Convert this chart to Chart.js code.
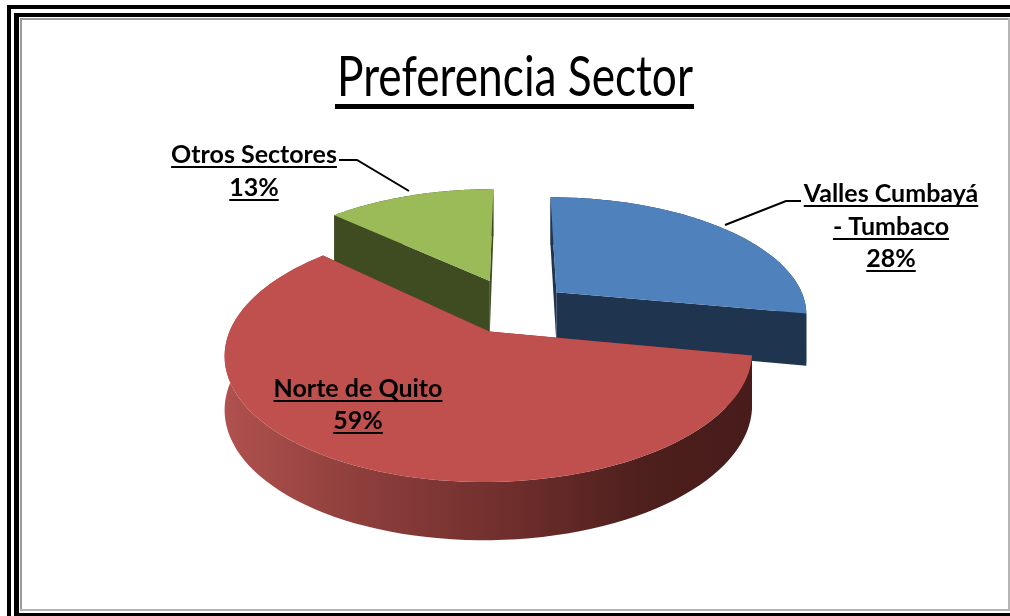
<!DOCTYPE html>
<html><head><meta charset="utf-8">
<script src="https://cdn.jsdelivr.net/npm/chart.js@4"></script>
<style>html,body{margin:0;padding:0;background:#fff;overflow:hidden}canvas{display:block}</style>
</head><body><canvas id="c" width="1010" height="616"></canvas>
<script>
const chartTitle = 'Preferencia Sector';
const categories = ['Valles Cumbayá - Tumbaco', 'Norte de Quito', 'Otros Sectores'];
const values = [28, 59, 13];
const topColors = ['#4f81bd', '#c0504d', '#9bbb59'];
const wallColors = ['#1f344f', '#6e2c2a', '#3f4c22'];
const labelLines = [['Valles Cumbayá', '- Tumbaco', '28%'], ['Norte de Quito', '59%'], ['Otros Sectores', '13%']];

// view settings of the tilted pie
const sliceOffsets = [55, 55, 66];
const RADIUS = 251, PERSP = 0.17, SQUASH = 116, DEPTH = 52;
const drawOrder = [2, 0, 1];
const labelPlace = [
  {x: 891, ys: [202, 235, 267]},
  {x: 358, ys: [397, 429]},
  {x: 254, ys: [163, 196]}
];
const leaders = [
  [[725, 225], [786, 201], [801, 201]],
  null,
  [[409, 191], [357, 160], [339, 160]]
];

function project(cx, cy, u, v, h) {
  const w = 1 / (1 - PERSP * v / RADIUS);
  return [cx + u * w, cy + SQUASH * v / RADIUS * w + h * DEPTH * Math.sqrt(w)];
}
function pathOf(ctx, pts) {
  ctx.beginPath();
  pts.forEach((p, i) => i ? ctx.lineTo(p[0], p[1]) : ctx.moveTo(p[0], p[1]));
  ctx.closePath();
}
const pie3d = {
  id: 'pie3d',
  beforeDatasetDraw(chart, args) {
    const ctx = chart.ctx, arcs = args.meta.data;
    drawOrder.forEach(i => {
      const el = arcs[i], a0 = el.startAngle, a1 = el.endAngle, R = el.outerRadius;
      const mid = (a0 + a1) / 2, off = el.options.offset;
      const ox = Math.cos(mid) * off, oy = Math.sin(mid) * off;
      const pt = (a, h) => project(el.x, el.y, ox + Math.cos(a) * R, oy + Math.sin(a) * R, h);
      const apex = h => project(el.x, el.y, ox, oy, h);
      const n = 90, angles = [];
      for (let k = 0; k <= n; k++) angles.push(a0 + (a1 - a0) * k / n);
      // cut faces
      ctx.fillStyle = wallColors[i];
      [a0, a1].forEach(a => {
        pathOf(ctx, [apex(0), pt(a, 0), pt(a, 1), apex(1)]);
        ctx.fill();
      });
      // rim
      let fill = wallColors[i];
      if (i === 1) {
        const g = ctx.createLinearGradient(225, 0, 750, 0);
        g.addColorStop(0, '#b0514e');
        g.addColorStop(0.25, '#8e3f3c');
        g.addColorStop(0.55, '#6e2e2c');
        g.addColorStop(0.8, '#4d1f1d');
        g.addColorStop(1, '#471c1a');
        fill = g;
      }
      ctx.fillStyle = fill;
      pathOf(ctx, angles.map(a => pt(a, 0)).concat(angles.slice().reverse().map(a => pt(a, 1))));
      ctx.fill();
      // top face
      ctx.fillStyle = el.options.backgroundColor;
      pathOf(ctx, [apex(0)].concat(angles.map(a => pt(a, 0))));
      ctx.fill();
    });
    return false;
  },
  afterDraw(chart) {
    const ctx = chart.ctx;
    ctx.save();
    // frame
    ctx.fillStyle = '#000';
    ctx.fillRect(7, 5, 1003, 4);
    ctx.fillRect(7, 5, 4, 611);
    ctx.fillRect(14, 13, 996, 4);
    ctx.fillRect(14, 13, 5, 603);
    ctx.fillRect(14, 613, 996, 3);
    ctx.fillStyle = '#9a9a9a';
    ctx.fillRect(20, 18, 990, 2);
    ctx.fillRect(20, 18, 2, 593);
    ctx.fillStyle = '#b5b5b5';
    ctx.fillRect(20, 609, 990, 2);
    ctx.fillRect(1008, 18, 2, 593);
    // title
    ctx.fillStyle = '#000';
    ctx.textAlign = 'center';
    ctx.textBaseline = 'alphabetic';
    ctx.font = '56px "Lato"';
    const tw = ctx.measureText(chartTitle).width;
    ctx.save();
    ctx.translate(515, 96);
    ctx.scale(356 / tw, 1);
    ctx.fillText(chartTitle, 0, 0);
    ctx.restore();
    ctx.fillRect(335, 104, 359, 5);
    // leaders
    ctx.strokeStyle = '#000';
    ctx.lineWidth = 2;
    leaders.forEach(l => {
      if (!l) return;
      ctx.beginPath();
      l.forEach((p, i) => i ? ctx.lineTo(p[0], p[1]) : ctx.moveTo(p[0], p[1]));
      ctx.stroke();
    });
    // data labels
    ctx.font = 'bold 25px "Lato"';
    labelLines.forEach((lines, i) => {
      lines.forEach((t, j) => {
        const x = labelPlace[i].x, y = labelPlace[i].ys[j];
        ctx.fillText(t, x, y);
        const w = ctx.measureText(t).width;
        ctx.fillRect(x - w / 2, y + 3, w, 2);
      });
    });
    ctx.restore();
  }
};
new Chart(document.getElementById('c'), {
  type: 'pie',
  data: { labels: categories, datasets: [{ data: values, backgroundColor: topColors, borderWidth: 0, offset: sliceOffsets }] },
  options: {
    responsive: false,
    animation: false,
    radius: RADIUS,
    rotation: 0,
    layout: { padding: { left: 20, right: 0, top: 0, bottom: 0 } },
    plugins: { legend: { display: false }, tooltip: { enabled: false } }
  },
  plugins: [pie3d]
});
</script></body></html>
